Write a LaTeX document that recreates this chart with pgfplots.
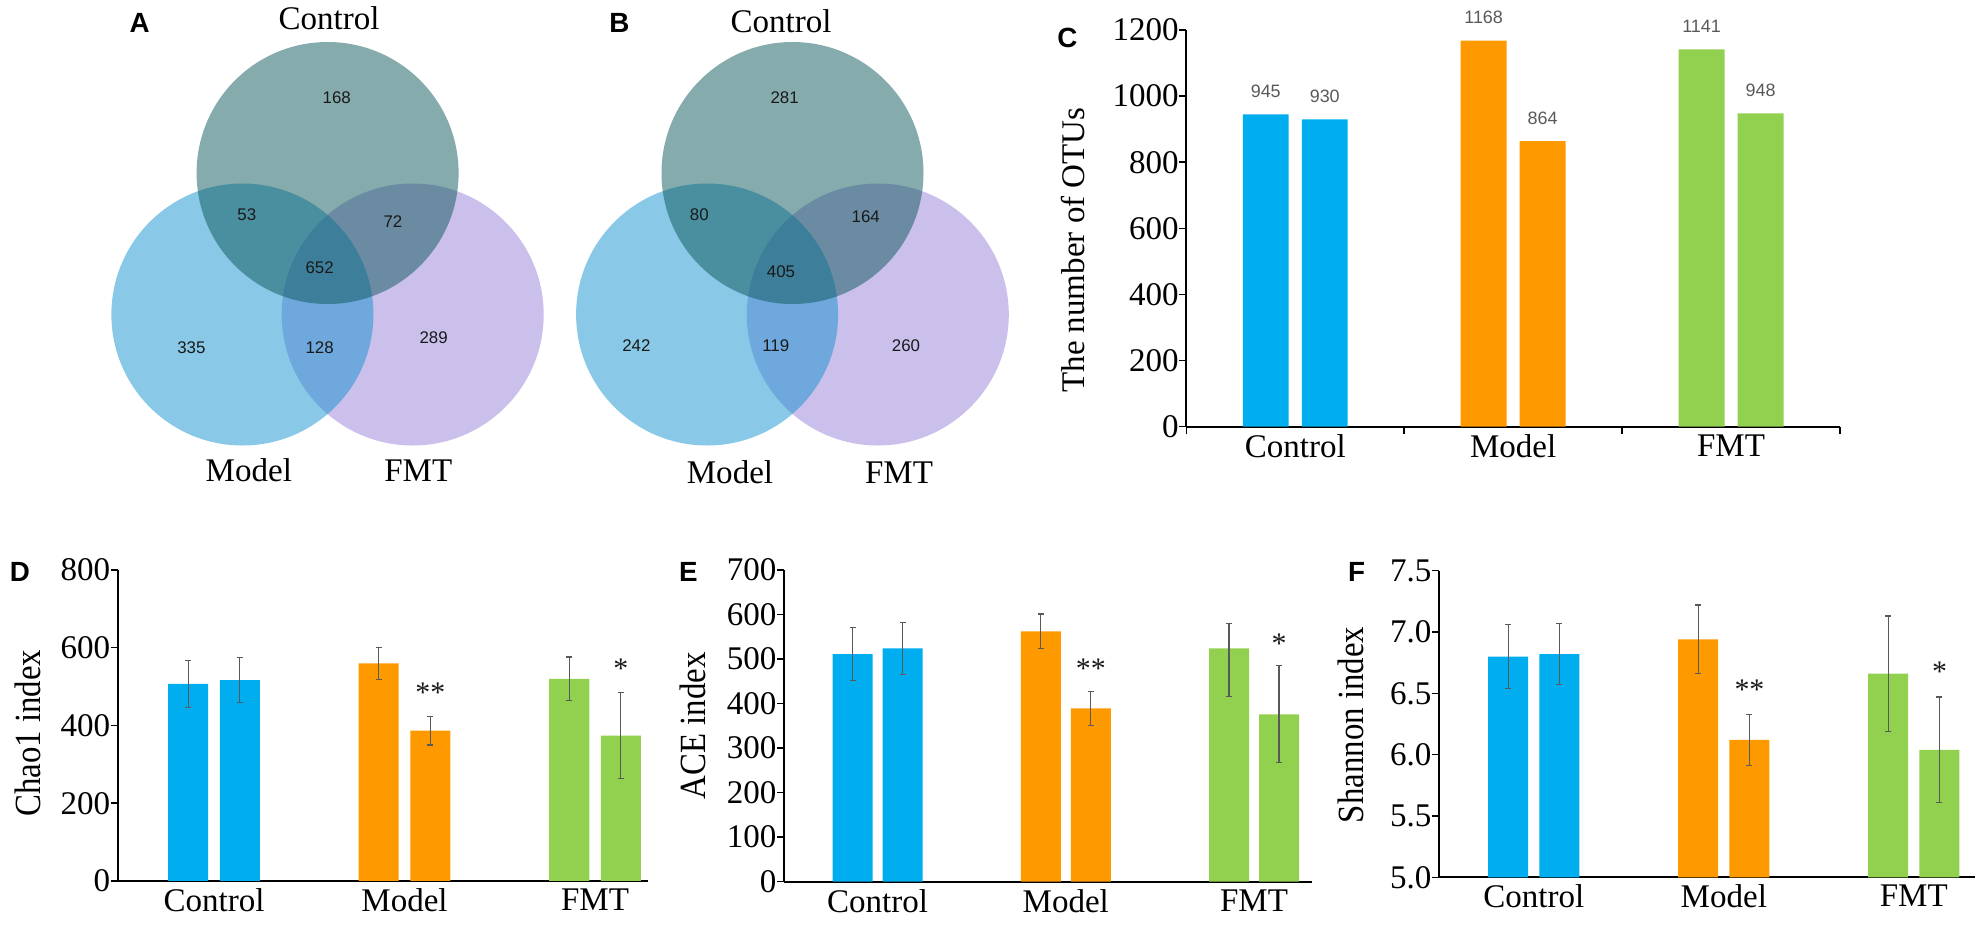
\documentclass[border=0pt]{standalone}
\usepackage{fontspec}
\setmainfont{Liberation Serif}
\newfontfamily\sansf{Liberation Sans}
\newfontfamily\condf[FakeStretch=0.89]{Liberation Serif}
\usepackage{pgfplots}
\pgfplotsset{compat=1.18}

% 1 px of the reference = 0.01 cm
\newcommand\txt{\fontsize{9.4}{11}\selectfont}
\newcommand\ylab{\condf\fontsize{10.5}{12}\selectfont}
\newcommand\vnum{\sansf\fontsize{4.8}{6}\selectfont}
\newcommand\bnum{\sansf\fontsize{5.1}{6}\selectfont}
\newcommand\panel{\sansf\bfseries\fontsize{7.9}{9}\selectfont}
\newcommand\starf{\fontsize{8.5}{10}\selectfont}

\definecolor{cblue}{RGB}{0,174,239}
\definecolor{corange}{RGB}{255,153,0}
\definecolor{cgreen}{RGB}{146,208,80}
\definecolor{vT}{RGB}{13,87,91}
\definecolor{vL}{RGB}{19,145,205}
\definecolor{vR}{RGB}{151,129,217}

\pgfplotsset{
  venn/.style={scale only axis, width=10cm, height=4.8cm,
    xmin=0, xmax=1000, ymin=0, ymax=480, y dir=reverse,
    hide axis, clip=false},
  circ/.style={only marks, mark=*, mark size=1.31cm,
    mark options={draw opacity=0, fill=#1, fill opacity=0.5}},
  nums/.style={only marks, mark=*, mark size=0pt,
    mark options={draw opacity=0, fill=none},
    nodes near coords, point meta=explicit symbolic,
    every node near coord/.style={anchor=center, inner sep=0pt, font=#1,
      text=black!90, opacity=1, text opacity=1}},
  barax/.style={scale only axis, axis lines=left,
    axis line style={-, line width=0.018cm},
    tick align=outside, major tick length=0.07cm, minor tick length=0.07cm,
    tick style={line width=0.015cm, black},
    major x tick style={draw=none},
    xtick={1,2,3}, xticklabels={Control,Model,FMT},
    ticklabel style={font=\txt, inner sep=0pt},
    /pgf/number format/assume math mode=true,
    /pgf/number format/1000 sep={},
    ymin=0, clip=false},
  bars/.style={ybar, bar shift=0pt, draw=none, fill=#1,
    error bars/y dir=both, error bars/y explicit,
    error bars/error bar style={line width=0.012cm, black!65},
    error bars/error mark options={rotate=90, mark size=0.03cm, line width=0.012cm, black!65}},
}

\begin{document}
\begin{tikzpicture}

% ---------- A and B: Venn diagrams ----------
\begin{scope}[shift={(0,4.46)}]
\begin{axis}[venn, at={(0,0)}, anchor=south west]
  \addplot[circ=vR] coordinates {(412.7,314.5)};
  \addplot[circ=vL] coordinates {(242.4,314.5)};
  \addplot[circ=vT] coordinates {(327.6,173)};
  \addplot[circ=vR] coordinates {(877.8,314.5)};
  \addplot[circ=vL] coordinates {(707.1,314.5)};
  \addplot[circ=vT] coordinates {(792.5,173)};
  \addplot[nums=\vnum] coordinates {
    (336.8,98) [168] (246.8,215) [53] (393,222) [72] (319.6,268) [652]
    (191.4,348) [335] (319.6,348) [128] (433.6,338) [289]
    (784.6,98) [281] (699.3,215) [80] (865.7,217) [164] (781,272) [405]
    (636.4,346) [242] (775.7,346) [119] (906,346) [260]};
  \node[anchor=base, font=\txt, inner sep=0pt] at (axis cs:329,29.5) {Control};
  \node[anchor=base, font=\txt, inner sep=0pt] at (axis cs:248.8,481.7) {Model};
  \node[anchor=base, font=\txt, inner sep=0pt] at (axis cs:418.3,481.7) {FMT};
  \node[anchor=base, font=\txt, inner sep=0pt] at (axis cs:781,32) {Control};
  \node[anchor=base, font=\txt, inner sep=0pt] at (axis cs:730,483.3) {Model};
  \node[anchor=base, font=\txt, inner sep=0pt] at (axis cs:899,483.3) {FMT};
\end{axis}
\end{scope}

% ---------- C: number of OTUs ----------
\begin{scope}[shift={(11.863,4.993)}]
\begin{axis}[barax, at={(0,0)}, anchor=south west,
  width=6.537cm, height=3.967cm, xmin=0.5, xmax=3.5, ymax=1200,
  ytick={0,200,...,1200}, minor xtick={0.5,1.5,2.5,3.5},
  ylabel={\txt The number of OTUs},
  ylabel style={at={(axis description cs:-0.1733,0.4454)}, anchor=center},
  nodes near coords,
  every node near coord/.style={font=\bnum, text=black!65, anchor=south, inner sep=0pt, yshift=0.16cm}]
  \addplot[ybar, bar shift=0pt, draw=none, fill=cblue, bar width=0.211] coordinates {(0.8646,945) (1.1354,930)};
  \addplot[ybar, bar shift=0pt, draw=none, fill=corange, bar width=0.211] coordinates {(1.8646,1168) (2.1354,864)};
  \addplot[ybar, bar shift=0pt, draw=none, fill=cgreen, bar width=0.211] coordinates {(2.8646,1141) (3.1354,948)};
\end{axis}
\end{scope}

% ---------- D: Chao1 ----------
\begin{scope}[shift={(1.178,0.45)}]
\begin{axis}[barax, at={(0,0)}, anchor=south west,
  width=5.302cm, height=3.11cm, xmin=0.495, xmax=3.278, ymax=800,
  ytick={0,200,...,800},
  ylabel={\ylab Chao1 index},
  ylabel style={at={(axis description cs:-0.1703,0.4746)}, anchor=center}]
  \addplot[bars=cblue, bar width=0.21] coordinates {(0.8646,507) +- (0,60) (1.1354,517) +- (0,57)};
  \addplot[bars=corange, bar width=0.21] coordinates {(1.8646,560) +- (0,41) (2.1354,387) +- (0,37)};
  \addplot[bars=cgreen, bar width=0.21] coordinates {(2.8646,520) +- (0,56) (3.1354,374) +- (0,111)};
  \addplot[nums=\starf] coordinates {(2.1354,484) [**] (3.1354,547) [*]};
\end{axis}
\end{scope}

% ---------- E: ACE ----------
\begin{scope}[shift={(7.842,0.443)}]
\begin{axis}[barax, at={(0,0)}, anchor=south west,
  width=5.278cm, height=3.117cm, xmin=0.504, xmax=3.308, ymax=700,
  ytick={0,100,...,700},
  ylabel={\ylab ACE index},
  ylabel style={at={(axis description cs:-0.1728,0.5)}, anchor=center}]
  \addplot[bars=cblue, bar width=0.2125] coordinates {(0.8672,511) +- (0,60) (1.1328,524) +- (0,58)};
  \addplot[bars=corange, bar width=0.2125] coordinates {(1.8672,562) +- (0,39) (2.1328,389) +- (0,38)};
  \addplot[bars=cgreen, bar width=0.2125] coordinates {(2.8672,524) += (0,56) -= (0,108) (3.1328,376) +- (0,109)};
  \addplot[nums=\starf] coordinates {(2.1328,479) [**] (3.1328,535) [*]};
\end{axis}
\end{scope}

% ---------- F: Shannon ----------
\begin{scope}[shift={(14.392,0.487)}]
\begin{axis}[barax, at={(0,0)}, anchor=south west,
  width=5.358cm, height=3.066cm, xmin=0.502, xmax=3.322, ymin=5, ymax=7.5,
  ytick={5,5.5,...,7.5}, clip=true,
  yticklabel style={/pgf/number format/.cd, fixed, fixed zerofill, precision=1},
  ylabel={\ylab Shannon index},
  ylabel style={at={(axis description cs:-0.1646,0.4967)}, anchor=center}]
  \addplot[bars=cblue, bar width=0.2105] coordinates {(0.865,6.80) +- (0,0.26) (1.135,6.82) +- (0,0.25)};
  \addplot[bars=corange, bar width=0.2105] coordinates {(1.865,6.94) +- (0,0.28) (2.135,6.12) +- (0,0.21)};
  \addplot[bars=cgreen, bar width=0.2105] coordinates {(2.865,6.66) +- (0,0.47) (3.135,6.04) +- (0,0.43)};
  \addplot[nums=\starf] coordinates {(2.135,6.527) [**] (3.135,6.676) [*]};
\end{axis}
\end{scope}

% ---------- panel letters ----------
\node[font=\panel, inner sep=0pt] at (1.397,9.03) {A};
\node[font=\panel, inner sep=0pt] at (6.195,9.03) {B};
\node[font=\panel, inner sep=0pt] at (10.675,8.877) {C};
\node[font=\panel, inner sep=0pt] at (0.20,3.54) {D};
\node[font=\panel, inner sep=0pt] at (6.885,3.54) {E};
\node[font=\panel, inner sep=0pt] at (13.565,3.54) {F};

\pgfresetboundingbox
\path[use as bounding box] (0,0) rectangle (19.76,9.26);
\end{tikzpicture}
\end{document}
